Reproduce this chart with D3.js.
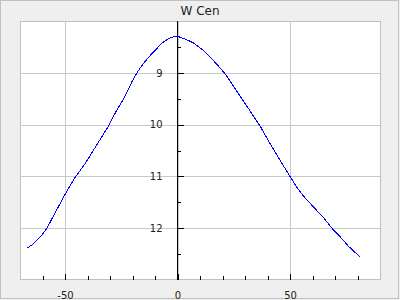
<!DOCTYPE html>
<html>
<head>
<meta charset="utf-8">
<script src="https://cdn.jsdelivr.net/npm/d3@7"></script>
<style>
    body { margin: 0; background: #efefef; }
    text { font-family: "DejaVu Sans", sans-serif; fill: #1e1e1e; }
</style>
</head>
<body>
<div id="chart"></div>
<script>
var title = "W Cen";

// phase vs magnitude
var phase = [-67, -64, -61, -58, -55, -50, -46, -41, -36, -31, -27, -24, -22, -20, -18, -16, -14, -12, -10, -7, -4, -2,
    0, 1, 4, 7, 11, 15, 18, 21, 26, 32, 37, 42, 46, 50, 53, 56, 60, 65, 69, 72, 76, 81];
var magnitude = [12.39, 12.30, 12.17, 12.00, 11.75, 11.35, 11.05, 10.75, 10.40, 10.05, 9.72, 9.51, 9.33, 9.15, 9.00, 8.87, 8.76, 8.66, 8.57, 8.43, 8.34, 8.31,
    8.30, 8.31, 8.36, 8.42, 8.55, 8.72, 8.86, 9.01, 9.33, 9.72, 10.05, 10.43, 10.72, 11.00, 11.21, 11.38, 11.57, 11.80, 12.02, 12.15, 12.35, 12.55];

var xMajor = [-50, 0, 50];
var xMinor = [-60, -40, -30, -20, -10, 10, 20, 30, 40, 60, 70, 80];
var yMajor = [9, 10, 11, 12];
var yMinor = [8.5, 9.5, 10.5, 11.5, 12.5];

var data = phase.map(function(d, i) { return {x: d, y: magnitude[i]}; });

var width = 400, height = 300;
var margin = {top: 21, right: 20, bottom: 20, left: 20};

var svg = d3.select("#chart").append("svg").attr("width", width).attr("height", height);

svg.append("rect")
    .attr("x", 0.5).attr("y", 0.5).attr("width", width - 2).attr("height", height - 2)
    .attr("fill", "#efefef").attr("stroke", "#c0c0c0");

var x = d3.scaleLinear().domain([-70, 90]).range([margin.left, width - margin.right]);
var y = d3.scaleLinear().domain([8, 13]).range([margin.top, height - margin.bottom]);

svg.append("rect")
    .attr("x", margin.left + 0.5).attr("y", margin.top + 0.5)
    .attr("width", width - margin.left - margin.right).attr("height", height - margin.top - margin.bottom - 1)
    .attr("fill", "white").attr("stroke", "#c0c0c0");

// grid
svg.append("g").attr("class", "grid")
    .attr("transform", "translate(0," + (height - margin.bottom) + ")")
    .call(d3.axisBottom(x).tickValues(xMajor).tickSize(-(height - margin.top - margin.bottom)).tickFormat(""))
    .call(function(g) { g.select(".domain").remove(); })
    .selectAll("line").attr("stroke", "#c8c8c8").attr("shape-rendering", "crispEdges");

svg.append("g").attr("class", "grid")
    .attr("transform", "translate(" + margin.left + ",0)")
    .call(d3.axisLeft(y).tickValues(yMajor).tickSize(-(width - margin.left - margin.right)).tickFormat(""))
    .call(function(g) { g.select(".domain").remove(); })
    .selectAll("line").attr("stroke", "#c8c8c8").attr("shape-rendering", "crispEdges");

// x axis ticks (inside, upward)
var xAxis = svg.append("g").attr("transform", "translate(0," + (height - margin.bottom) + ")");
xAxis.append("g")
    .call(d3.axisTop(x).tickValues(xMinor).tickSize(4).tickFormat(""))
    .call(function(g) { g.select(".domain").remove(); });
xAxis.append("g")
    .call(d3.axisBottom(x).tickValues(xMajor).tickSize(-6).tickPadding(12).tickFormat(function(d) { return String(d); }))
    .call(function(g) { g.select(".domain").remove(); });
xAxis.selectAll("line").attr("stroke", "black").attr("shape-rendering", "crispEdges");
xAxis.selectAll("text").attr("font-size", "10px").attr("fill", "#1e1e1e").attr("dy", "0.71em")
    .attr("font-family", "DejaVu Sans");

// y axis at x = 0
var yAxis = svg.append("g").attr("transform", "translate(" + x(0) + ",0)");
yAxis.append("g")
    .call(d3.axisRight(y).tickValues(yMinor).tickSize(3).tickFormat(""))
    .call(function(g) { g.select(".domain").remove(); });
yAxis.append("g")
    .call(d3.axisLeft(y).tickValues(yMajor).tickSize(-6).tickPadding(15).tickFormat(function(d) { return String(d); }))
    .call(function(g) { g.select(".domain").remove(); });
yAxis.append("line")
    .attr("x1", 0).attr("x2", 0).attr("y1", margin.top).attr("y2", height - margin.bottom);
yAxis.selectAll("line").attr("stroke", "black").attr("shape-rendering", "crispEdges");
yAxis.selectAll("text").attr("font-size", "10px").attr("fill", "#1e1e1e")
    .attr("font-family", "DejaVu Sans");

// curve
var line = d3.line()
    .x(function(d) { return x(d.x); })
    .y(function(d) { return y(d.y); });

svg.append("path").datum(data)
    .attr("d", line)
    .attr("fill", "none")
    .attr("stroke", "blue")
    .attr("stroke-width", 1)
    .attr("shape-rendering", "crispEdges");

svg.append("text")
    .attr("x", width / 2).attr("y", 15)
    .attr("text-anchor", "middle")
    .attr("font-size", "12px")
    .text(title);
</script>
</body>
</html>
